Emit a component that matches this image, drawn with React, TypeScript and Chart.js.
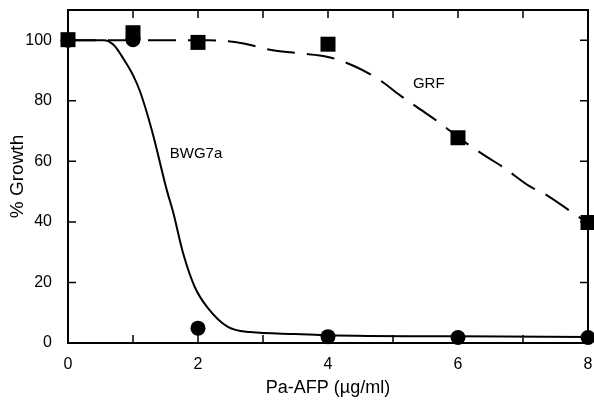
import React, { useEffect, useRef } from "react";
import { Chart, registerables } from "chart.js";

Chart.register(...registerables);

// ---- data ----
const doses = [0, 1, 2, 4, 6, 8];
const grfGrowth = [100.2, 102.5, 99.3, 98.7, 67.8, 39.8];
const bwgGrowth = [100, 100.2, 4.9, 2.1, 1.8, 1.8];

// fitted curves
const grfFitX = [0, 1, 2, 2.18, 2.68, 3.15, 3.57, 4, 4.4, 4.8, 5.11, 5.37, 5.77, 6, 6.45, 6.7, 7.1, 7.37, 7.77, 8];
const grfFitY = [100, 100, 100, 100, 99, 96.7, 95.7, 94.5, 91.5, 86.8, 81.8, 77.9, 71.9, 68, 61.4, 58, 51.8, 48.8, 42.9, 39.6];
const bwgFitX = [0, 0.55, 0.7, 0.85, 1.0, 1.11, 1.29, 1.52, 1.62, 1.77, 1.95, 2.15, 2.46, 2.8, 3.5, 4, 6, 8];
const bwgFitY = [100, 100, 98.5, 94, 88.5, 83, 70.3, 50.5, 43, 29.7, 18.5, 11.6, 5.3, 3.6, 3.0, 2.6, 2.2, 2.0];

const xTickValues = [0, 1, 2, 3, 4, 5, 6, 7, 8];
const xLabelValues = [0, 2, 4, 6, 8];
const yTickValues = [0, 20, 40, 60, 80, 100];

const curveLabels = ["BWG7a", "GRF"];
const curveLabelX = [1.97, 5.55];
const curveLabelY = [62.4, 85.5];

const xTitle = "Pa-AFP (\u00b5g/ml)";
const yTitle = "% Growth";

const FONT = "'Liberation Sans', Arial, Helvetica, sans-serif";

const pts = (xs: number[], ys: number[]) => xs.map((x, i) => ({ x, y: ys[i] }));

const framePlugin = {
  id: "frameTicks",
  beforeDatasetsDraw(chart: any) {
    const { ctx, chartArea: a, scales } = chart;
    const xs = scales.x;
    const ys = scales.y;
    const L = 8;
    ctx.save();
    ctx.strokeStyle = "#000";
    ctx.lineWidth = 2;
    ctx.strokeRect(a.left, a.top, a.right - a.left, a.bottom - a.top);
    ctx.lineWidth = 1.5;
    ctx.beginPath();
    xTickValues.forEach((v) => {
      const px = xs.getPixelForValue(v);
      ctx.moveTo(px, a.bottom);
      ctx.lineTo(px, a.bottom - L);
      ctx.moveTo(px, a.top);
      ctx.lineTo(px, a.top + L);
    });
    yTickValues.forEach((v) => {
      const py = ys.getPixelForValue(v);
      ctx.moveTo(a.left, py);
      ctx.lineTo(a.left + L, py);
      ctx.moveTo(a.right, py);
      ctx.lineTo(a.right - L, py);
    });
    ctx.stroke();
    ctx.restore();
  },
  afterDatasetsDraw(chart: any) {
    const { ctx, scales } = chart;
    ctx.save();
    ctx.fillStyle = "#000";
    ctx.font = `15px ${FONT}`;
    ctx.textAlign = "center";
    ctx.textBaseline = "middle";
    curveLabels.forEach((t, i) => {
      ctx.fillText(t, scales.x.getPixelForValue(curveLabelX[i]), scales.y.getPixelForValue(curveLabelY[i]));
    });
    ctx.restore();
  },
};

export default function App() {
  const ref = useRef<HTMLCanvasElement | null>(null);
  useEffect(() => {
    document.body.style.margin = "0";
    const canvas = ref.current!;
    const chart = new Chart(canvas, {
      type: "scatter",
      data: {
        datasets: [
          {
            label: "BWG7a",
            data: pts(doses, bwgGrowth),
            pointStyle: "circle",
            pointRadius: 7.5,
            pointBackgroundColor: "#000",
            pointBorderColor: "#000",
            pointBorderWidth: 0,
            showLine: false,
            clip: false as any,
          },
          {
            label: "GRF",
            data: pts(doses, grfGrowth),
            pointStyle: "rect",
            pointRadius: 10.6,
            pointBackgroundColor: "#000",
            pointBorderColor: "#000",
            pointBorderWidth: 0,
            showLine: false,
            clip: false as any,
          },
          {
            label: "BWG7a fit",
            data: pts(bwgFitX, bwgFitY),
            showLine: true,
            pointRadius: 0,
            borderColor: "#000",
            borderWidth: 2,
            cubicInterpolationMode: "monotone",
          } as any,
          {
            label: "GRF fit",
            data: pts(grfFitX, grfFitY),
            showLine: true,
            pointRadius: 0,
            borderColor: "#000",
            borderWidth: 2,
            borderDash: [28, 12],
            cubicInterpolationMode: "monotone",
          } as any,
        ],
      },
      options: {
        animation: false,
        responsive: false,
        devicePixelRatio: 1,
        layout: { autoPadding: false, padding: { top: 10, right: 6, left: 0, bottom: 0 } },
        plugins: { legend: { display: false }, tooltip: { enabled: false } },
        scales: {
          x: {
            type: "linear",
            min: 0,
            max: 8,
            afterFit: (s: any) => {
              s.height = 59;
              s.paddingRight = 0;
              s.paddingLeft = 0;
            },
            afterBuildTicks: (s: any) => {
              s.ticks = xTickValues.map((v) => ({ value: v }));
            },
            grid: { display: false, drawTicks: false },
            border: { display: false },
            ticks: {
              autoSkip: false,
              maxRotation: 0,
              padding: 12,
              color: "#000",
              font: { family: FONT, size: 16 },
              callback: (v: any) => (xLabelValues.includes(Number(v)) ? String(v) : ""),
            },
            title: {
              display: true,
              text: xTitle,
              color: "#000",
              font: { family: FONT, size: 18 },
              padding: { top: 0, bottom: 3 },
            },
          },
          y: {
            type: "linear",
            min: 0,
            max: 110,
            afterFit: (s: any) => {
              s.width = 68;
              s.paddingTop = 0;
              s.paddingBottom = 0;
            },
            afterBuildTicks: (s: any) => {
              s.ticks = yTickValues.map((v) => ({ value: v }));
            },
            grid: { display: false, drawTicks: false },
            border: { display: false },
            ticks: {
              padding: 16,
              color: "#000",
              font: { family: FONT, size: 16 },
            },
            title: {
              display: true,
              text: yTitle,
              color: "#000",
              font: { family: FONT, size: 19 },
              padding: { top: 6, bottom: 0 },
            },
          },
        },
      },
      plugins: [framePlugin],
    });
    return () => chart.destroy();
  }, []);
  return (
    <div style={{ position: "absolute", left: 0, top: 0, width: 594, height: 402, background: "#fff" }}>
      <canvas ref={ref} width={594} height={402} style={{ display: "block" }} />
    </div>
  );
}
